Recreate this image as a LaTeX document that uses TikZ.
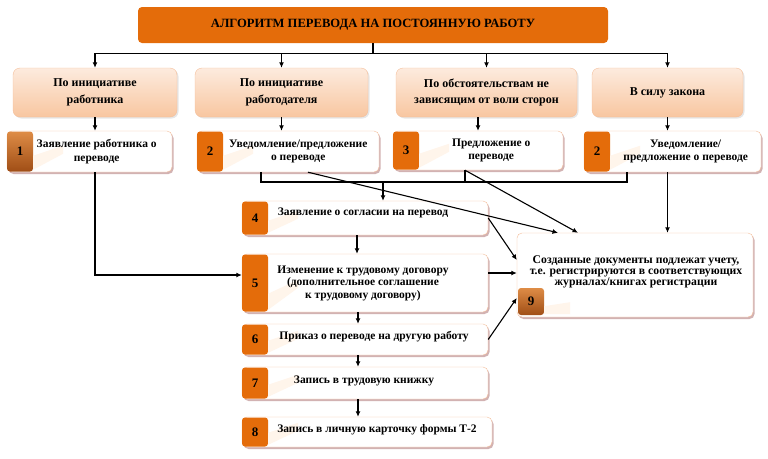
\documentclass[tikz,border=0pt]{standalone}
\usepackage{fontspec}
\setmainfont{Liberation Serif}
\usetikzlibrary{arrows.meta,shadows,calc}

\definecolor{orangeMain}{RGB}{228,108,10}
\definecolor{peachTop}{RGB}{253,235,222}
\definecolor{peachBot}{RGB}{248,198,160}
\definecolor{peachLine}{RGB}{244,190,155}
\definecolor{brownTop}{RGB}{222,140,70}
\definecolor{brownBot}{RGB}{160,78,22}
\definecolor{shadowPink}{RGB}{205,170,170}

\def\tabwidth{26pt}
\def\stepfont{\bfseries\fontsize{11.5}{13.5}\selectfont}

\begin{document}
\begin{tikzpicture}[x=1pt,y=-1pt,
% Here are defined the boxes, the number tabs and the arrows
head/.style={
rectangle, rounded corners=4pt,
fill=orangeMain, inner sep=0,
minimum width=470pt, minimum height=36pt,
font=\bfseries\fontsize{12.6}{14}\selectfont },
cause/.style={
rectangle, rounded corners=7pt,
draw=peachLine, thin,
top color=peachTop, bottom color=peachBot,
minimum height=49pt, align=center,
drop shadow={opacity=0.2, shadow xshift=1.5pt, shadow yshift=-1.5pt},
font=\bfseries\fontsize{12}{16.5}\selectfont },
stepbox/.style={
rectangle, rounded corners=5pt,
draw=peachLine, fill=white, thin, inner sep=0,
drop shadow={fill=shadowPink, opacity=0.9, shadow xshift=1.5pt, shadow yshift=-2pt} },
numtab/.style={
rectangle, rounded corners=3pt,
fill=orangeMain, anchor=west, inner sep=0,
minimum width=\tabwidth,
font=\bfseries\fontsize{13}{14}\selectfont },
browntab/.style={
numtab, fill=none,
top color=brownTop, bottom color=brownBot },
wedge/.style={
fill=orange!8 },
txt/.style={
align=center, inner sep=0, font=\stepfont },
arr/.style={
-{Latex[length=5.5pt,width=5pt]}, line width=1.1pt },
line/.style={
line width=1.1pt },
]
\useasboundingbox (0,0) rectangle (768,458);

%%%%%%%%%%%%%%%%%%%%%%%%
%%% THE TITLE AND THE 4 CAUSES
%%%%%%%%%%%%%%%%%%%%%%%%
\node[head] (h0) at (373,25) {АЛГОРИТМ ПЕРЕВОДА НА ПОСТОЯННУЮ РАБОТУ};

\node[cause, minimum width=164pt] (c0) at (95,92.5) {По инициативе\\работника};
\node[cause, minimum width=173pt] (c1) at (281.5,92.5) {По инициативе\\работодателя};
\node[cause, minimum width=181pt] (c2) at (486.5,92.5) {По обстоятельствам не\\зависящим от воли сторон};
\node[cause, minimum width=151pt] (c3) at (667.5,92.5) {В силу закона};

%%%% The 4 first documents
\node[stepbox, minimum width=165pt, minimum height=41pt] (d0) at (89.5,151.5) {};
\node[browntab, minimum height=40pt] (t0) at (d0.west) {1};
\fill[wedge] ([yshift=2pt]t0.south east) -- ++(0,-14) -- ++(30,-10) -- ++(0,8) -- cycle;
\node[txt] at ([xshift=-6pt]$(t0.east)!0.5!(d0.east)$) {Заявление работника о\\переводе};

\node[stepbox, minimum width=182pt, minimum height=41pt] (d1) at (288,151.5) {};
\node[numtab, minimum height=40pt] (t1) at (d1.west) {2};
\fill[wedge] ([yshift=2pt]t1.south east) -- ++(0,-14) -- ++(30,-10) -- ++(0,8) -- cycle;
\node[txt] at ([xshift=-3pt]$(t1.east)!0.5!(d1.east)$) {Уведомление/предложение\\о переводе};

\node[stepbox, minimum width=170pt, minimum height=39pt] (d2) at (478,150.5) {};
\node[numtab, minimum height=38pt] (t2) at (d2.west) {3};
\fill[wedge] ([yshift=2pt]t2.south east) -- ++(0,-14) -- ++(30,-10) -- ++(0,8) -- cycle;
\node[txt] at ($(t2.east)!0.5!(d2.east)$) {Предложение о\\переводе};

\node[stepbox, minimum width=177pt, minimum height=41pt] (d3) at (672.5,151.5) {};
\node[numtab, minimum height=40pt] (t3) at (d3.west) {2};
\fill[wedge] ([yshift=2pt]t3.south east) -- ++(0,-14) -- ++(30,-10) -- ++(0,8) -- cycle;
\node[txt] at ($(t3.east)!0.5!(d3.east)$) {Уведомление/\\предложение о переводе};

%%%% The steps 4 to 8
\node[stepbox, minimum width=246pt, minimum height=34pt] (e0) at (365,218) {};
\node[numtab, minimum height=33pt] (t4) at (e0.west) {4};
\fill[wedge] ([yshift=2pt]t4.south east) -- ++(0,-12) -- ++(30,-10) -- ++(0,8) -- cycle;
\node[txt] at (363,213) {Заявление о согласии на перевод};

\node[stepbox, minimum width=246pt, minimum height=58pt] (e1) at (365,283) {};
\node[numtab, minimum height=57pt] (t5) at (e1.west) {5};
\fill[wedge] ([yshift=2pt]t5.south east) -- ++(0,-16) -- ++(30,-14) -- ++(0,8) -- cycle;
\node[txt, font=\bfseries\fontsize{11.5}{12.5}\selectfont] at (363,283) {Изменение к трудовому договору\\(дополнительное соглашение\\к трудовому договору)};

\node[stepbox, minimum width=246pt, minimum height=31pt] (e2) at (365,339.5) {};
\node[numtab, minimum height=30pt] (t6) at (e2.west) {6};
\fill[wedge] ([yshift=2pt]t6.south east) -- ++(0,-12) -- ++(30,-10) -- ++(0,8) -- cycle;
\node[txt] at (374,337) {Приказ о переводе на другую работу};

\node[stepbox, minimum width=246pt, minimum height=32pt] (e3) at (365,383) {};
\node[numtab, minimum height=31pt] (t7) at (e3.west) {7};
\fill[wedge] ([yshift=2pt]t7.south east) -- ++(0,-12) -- ++(30,-10) -- ++(0,8) -- cycle;
\node[txt] at (364,381) {Запись в трудовую книжку};

\node[stepbox, minimum width=250pt, minimum height=30pt] (e4) at (367,432) {};
\node[numtab, minimum height=29pt] (t8) at (e4.west) {8};
\fill[wedge] ([yshift=2pt]t8.south east) -- ++(0,-12) -- ++(30,-10) -- ++(0,8) -- cycle;
\node[txt] at (377,430) {Запись в личную карточку формы Т-2};

%%%% The registration box
\node[stepbox, minimum width=236pt, minimum height=84pt] (f0) at (635,275) {};
\node[browntab, minimum height=27pt, anchor=south west] (t9) at ([shift={(1pt,2pt)}]f0.south west) {9};
\fill[wedge] ([yshift=1pt]t9.south east) -- ++(0,-8) -- ++(26,-4) -- ++(0,12) -- cycle;
\node[txt, font=\bfseries\fontsize{11.7}{11}\selectfont] at (636,272) {Созданные документы подлежат учету,\\т.е. регистрируются в соответствующих\\журналах/книгах регистрации};

%%%%%%%%%%%%%%%%%%%%%%%%
%%% THE CONNECTORS
%%%%%%%%%%%%%%%%%%%%%%%%
% from the title to the causes
\draw[line] (h0.south) -- ++(0,10) coordinate (bus);
\draw[line] (bus -| c0.north) -- (bus -| c3.north);
\foreach \c in {c0,c1,c2,c3}
  \draw[arr] (bus -| \c.north) -- (\c.north);

% from the causes to the first documents
\draw[arr] (c0.south) -- (c0.south |- d0.north);
\draw[arr] (c1.south) -- (c1.south |- d1.north);
\draw[arr] (d2.north |- c2.south) -- (d2.north);
\draw[arr] (c3.south) -- (c3.south |- d3.north);

% the first documents join to step 4
\coordinate (j1) at (383,182);
\draw[line] ([xshift=-27pt]d1.south) |- (j1) -| ([xshift=-13pt]d2.south);
\draw[line] (j1) -| ([xshift=-45.5pt]d3.south);
\draw[arr] (j1) -- (j1 |- e0.north);
\draw[arr] (c0.south |- d0.south) |- ([yshift=8pt]e1.west);

% the steps one after another
\draw[arr] ([xshift=-8pt]e0.south) -- ([xshift=-8pt]e1.north);
\draw[arr] ([xshift=-7pt]e1.south) -- ([xshift=-7pt]e2.north);
\draw[arr] ([xshift=-7pt]e2.south) -- ([xshift=-7pt]e3.north);
\draw[arr] ([xshift=-7pt]e3.south) -- ([xshift=-9pt]e4.north);

% everything goes to the registration
\draw[arr] ([xshift=20pt]d1.south) -- ([xshift=-77pt]f0.north);
\draw[arr] ([xshift=-13pt]d2.south) -- ([xshift=-57pt]f0.north);
\draw[arr] (d3.south -| c3.south) -- (c3.south |- f0.north);
\draw[arr] (e0.east) -- ([yshift=15pt]f0.west);
\draw[arr] ([yshift=10pt]e1.east) -- ([yshift=10pt]e1.east -| f0.west);
\draw[arr] (e2.east) -- ([yshift=-23pt]f0.west);

\end{tikzpicture}
\end{document}
